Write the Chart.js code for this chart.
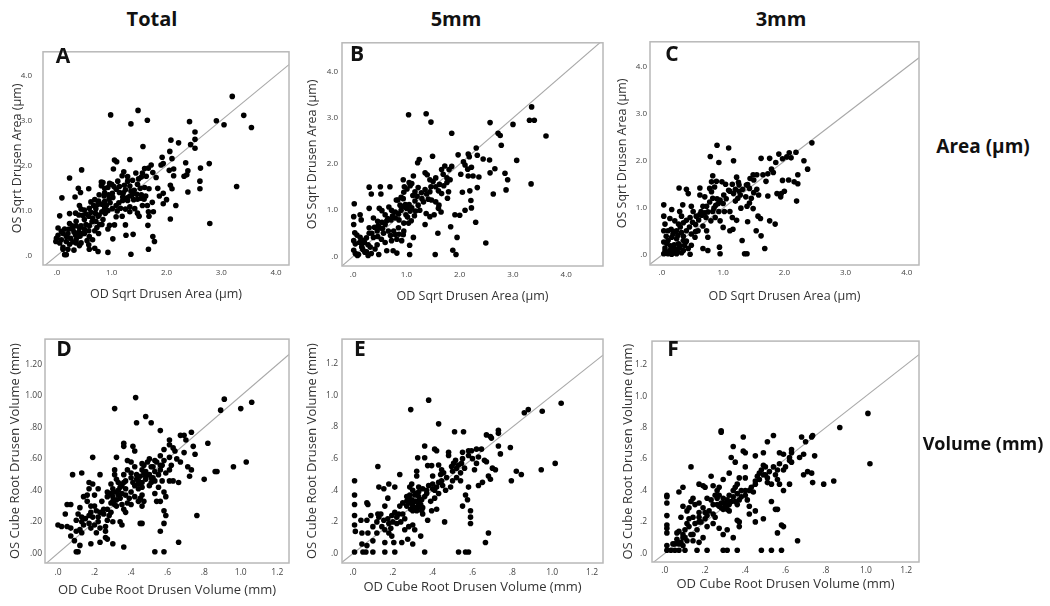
<!DOCTYPE html>
<html>
<head>
<meta charset="utf-8">
<script src="https://cdn.jsdelivr.net/npm/chart.js@4.4.1/dist/chart.umd.min.js"></script>
<style>
  body { margin: 0; background: #fff; width: 1050px; height: 606px; position: relative; overflow: hidden; font-family: "Open Sans", sans-serif; }
  canvas { position: absolute; z-index: 1; }
  .big { position: absolute; z-index: 2; font-weight: bold; font-size: 19px; color: #111; transform: translate(-50%, -50%); white-space: nowrap; }
  .letter { position: absolute; z-index: 2; font-weight: bold; font-size: 21px; color: #111; transform: translate(-50%, -50%); }
</style>
</head>
<body>

<canvas id="cA"></canvas>
<canvas id="cB"></canvas>
<canvas id="cC"></canvas>
<canvas id="cD"></canvas>
<canvas id="cE"></canvas>
<canvas id="cF"></canvas>

<div class="big" style="left:152px;top:18px;font-size:20px">Total</div>
<div class="big" style="left:456px;top:18px;font-size:20px">5mm</div>
<div class="big" style="left:781px;top:18px;font-size:20px">3mm</div>
<div class="big" style="left:983px;top:146px">Area (µm)</div>
<div class="big" style="left:983px;top:443px;font-size:18px">Volume (mm)</div>

<div class="letter" style="left:63px;top:55px">A</div>
<div class="letter" style="left:357px;top:53px">B</div>
<div class="letter" style="left:672px;top:53px">C</div>
<div class="letter" style="left:64px;top:348px">D</div>
<div class="letter" style="left:360px;top:348px">E</div>
<div class="letter" style="left:673px;top:348px">F</div>

<script>
// tick values / labels
const areaTicks = [0, 1, 2, 3, 4];
const areaTickLabels = ['.0', '1.0', '2.0', '3.0', '4.0'];
const volTicks = [0, 0.2, 0.4, 0.6, 0.8, 1.0, 1.2];
const volTickLabels = ['.0', '.2', '.4', '.6', '.8', '1.0', '1.2'];
const volTickLabels2 = ['.00', '.20', '.40', '.60', '.80', '1.00', '1.20'];

const areaXTitle = 'OD Sqrt Drusen Area (µm)';
const areaYTitle = 'OS Sqrt Drusen Area (µm)';
const volXTitle = 'OD Cube Root Drusen Volume (mm)';
const volYTitle = 'OS Cube Root Drusen Volume (mm)';

// [OD, OS] pairs
const areaTotal = [
  [3.2,3.53],[0.98,3.12],[1.48,3.22],[1.35,2.92],[1.65,3.0],[2.42,2.97],[2.91,2.99],[3.41,3.11],[3.05,2.9],[3.55,2.84],
  [2.52,2.74],[2.52,2.58],[2.44,2.46],[2.52,2.38],[2.08,2.56],[2.22,2.5],[2.06,2.31],[1.57,2.42],[2.1,2.15],[1.92,2.18],
  [1.94,2.04],[1.9,2.01],[2.35,2.06],[2.78,2.04],[2.62,1.94],[2.39,1.88],[2.37,1.79],[2.32,1.76],[2.61,1.65],[2.61,1.48],
  [2.39,1.41],[3.28,1.53],[2.79,0.71],[2.07,0.81],[2.17,1.11],[2.07,1.56],[2.1,1.48],[2.0,1.24],[1.94,1.38],[1.94,1.15],
  [2.13,1.77],[2.13,1.92],[2.05,1.89],[1.81,1.73],[1.72,2.01],[1.67,1.94],[1.6,1.93],[1.56,1.83],[1.75,1.84],[1.63,1.76],
  [1.54,1.74],[1.44,1.83],[1.49,1.7],[1.29,1.65],[1.33,2.13],[1.09,2.08],[1.05,2.12],[1.03,1.92],[1.22,1.86],[1.19,1.77],
  [1.25,1.46],[1.35,1.43],[1.41,1.45],[1.52,1.49],[1.6,1.51],[1.68,1.48],[1.46,1.36],[1.54,1.35],[1.54,1.27],[1.47,1.25],
  [1.4,1.24],[1.33,1.32],[1.28,1.28],[1.2,1.3],[1.21,1.39],[1.14,1.4],[1.08,1.47],[1.04,1.53],[0.96,1.6],[0.87,1.49],
  [0.84,1.62],[0.81,1.55],[0.87,1.39],[0.94,1.35],[1.01,1.38],[1.02,1.29],[0.95,1.25],[0.87,1.2],[0.76,1.21],[0.75,1.14],
  [0.82,1.14],[0.9,1.11],[0.93,1.0],[0.88,0.94],[0.82,0.97],[0.77,0.9],[0.7,0.94],[0.71,1.04],[0.67,1.11],[0.59,1.05],
  [0.62,0.96],[0.58,0.87],[0.5,0.8],[0.41,1.11],[0.44,1.03],[0.5,1.01],[0.34,0.94],[0.23,0.93],[0.05,0.88],[0.09,1.28],
  [0.23,1.72],[0.45,1.9],[0.33,1.3],[0.39,1.49],[0.43,1.4],[0.58,1.48],[0.81,1.63],[1.13,1.17],[1.08,1.11],[1.01,1.04],
  [1.1,0.99],[1.16,1.05],[1.25,1.03],[1.33,1.08],[1.33,0.97],[1.42,1.04],[1.47,0.94],[1.5,0.87],[1.56,1.11],[1.59,1.25],
  [1.67,0.97],[1.76,0.97],[1.68,0.87],[1.66,0.67],[1.75,0.42],[1.78,0.31],[1.67,0.14],[1.35,0.03],[1.39,0.47],[1.26,0.45],
  [1.25,0.68],[1.19,0.87],[1.08,0.86],[1.05,0.68],[0.96,0.67],[0.93,0.59],[1.02,0.37],[0.93,0.07],[0.75,0.09],[0.69,0.16],
  [0.59,0.14],[0.76,0.49],[0.69,0.55],[0.73,0.62],[0.78,0.69],[0.82,0.69],[0.84,0.8],[0.71,0.76],[0.64,0.75],[0.59,0.66],
  [0.53,0.69],[0.5,0.59],[0.58,0.55],[0.46,0.49],[0.42,0.43],[0.38,0.49],[0.35,0.35],[0.44,0.28],[0.55,0.33],[0.58,0.24],
  [0.31,0.12],[0.2,0.14],[0.17,0.02],[0.14,0.02],[0.11,0.18],[0.05,0.28],[-0.02,0.31],[-0.01,0.38],[0.08,0.35],[0.17,0.31],
  [0.25,0.38],[0.29,0.3],[0.2,0.49],[0.14,0.59],[0.08,0.54],[0.02,0.61],[0.23,0.71],[0.22,0.59],[0.31,0.52],[0.34,0.45],
  [0.38,0.42],[0.41,0.61],[0.35,0.66],[0.4,0.9],[0.47,0.89],[0.53,0.92],[0.62,1.19],[0.69,1.24],[0.77,1.35],[0.86,1.32],
  [0.93,1.51],[1.0,1.58],[1.11,1.65],
  [0.65,0.83],[0.75,0.87],[0.87,1.04],[0.97,1.17],[1.2,1.22],[1.29,1.22],[1.38,1.36],[1.14,1.53],[1.23,1.56],[1.33,1.54],
  [1.47,1.58],[1.29,1.75],[1.38,1.67],[0.35,0.76],[0.28,0.66],[0.11,0.49],[0.02,0.45],[0.44,0.66],[0.5,0.49],[0.59,0.42],
  [0.65,0.35],[0.4,0.52],[0.29,0.59],[0.17,0.42],[0.35,0.28],[0.41,0.22],[0.11,0.14],[0.23,0.25],[1.62,1.32],[1.65,1.11],
  [1.74,1.18],[1.87,1.32],[1.84,1.49]
];

const area5mm = [
  [3.35,3.24],[1.04,3.07],[1.37,3.09],[1.46,2.91],[1.85,2.67],[2.57,2.9],[3.0,2.86],[3.31,2.95],[3.4,2.95],[3.62,2.61],
  [2.72,2.67],[2.76,2.62],[2.78,2.41],[2.31,2.35],[2.16,2.22],[2.18,2.16],[2.33,2.19],[2.44,2.11],[2.56,2.09],[3.07,2.08],
  [2.66,1.9],[2.57,1.81],[2.85,1.8],[2.9,1.66],[2.87,1.44],[2.63,1.35],[3.34,1.57],[2.49,0.29],[2.3,0.74],[2.21,1.21],
  [2.22,1.05],[2.33,1.49],[2.19,1.42],[2.05,1.39],[2.36,1.72],[2.25,1.74],[2.16,1.74],[2.22,1.93],[2.15,1.89],[2.1,1.98],
  [2.07,2.05],[1.97,2.2],[2.02,1.78],[1.85,1.95],[1.8,1.88],[1.72,1.96],[1.66,1.88],[1.69,1.78],[1.76,1.7],[1.82,1.66],
  [1.76,1.6],[1.7,1.53],[1.79,1.4],[1.77,1.26],[1.66,1.36],[1.6,1.42],[1.62,1.56],[1.55,1.51],[1.46,1.51],[1.44,1.66],
  [1.39,1.77],[1.35,1.81],[1.49,2.17],[1.24,2.1],[1.21,2.03],[1.44,1.4],[1.38,1.35],[1.41,1.24],[1.47,1.22],[1.55,1.18],
  [1.61,1.11],[1.6,1.04],[1.65,0.96],[1.52,0.9],[1.44,0.86],[1.35,0.69],[1.25,1.0],[1.17,0.98],[1.22,1.11],[1.16,1.2],
  [1.12,1.32],[1.16,1.4],[1.1,1.58],[1.07,1.53],[1.01,1.46],[0.96,1.51],[0.94,1.66],[0.95,1.39],[0.9,1.28],[0.84,1.22],
  [0.88,1.11],[0.94,1.08],[1.0,1.04],[1.07,0.98],[0.99,0.9],[1.09,0.77],[1.04,0.72],[0.95,0.72],[0.86,0.79],[0.79,0.83],
  [0.71,0.79],[0.79,0.96],[0.72,1.0],[0.67,1.07],[0.81,1.22],[0.69,1.51],[0.51,1.51],[0.3,1.5],[0.34,1.35],[0.52,1.35],
  [0.02,1.14],[0.3,1.04],[0.49,1.04],[0.54,0.99],[0.38,0.83],[0.46,0.76],[0.54,0.74],[0.6,0.69],[0.63,0.77],[0.47,0.66],
  [0.4,0.63],[0.3,0.62],[0.3,0.5],[0.38,0.41],[0.46,0.43],[0.53,0.37],[0.57,0.5],[0.66,0.55],[0.76,0.55],[0.79,0.47],
  [0.86,0.48],[0.94,0.47],[0.91,0.34],[0.82,0.37],[0.72,0.34],[1.13,0.41],[1.06,0.24],[1.06,0.04],[0.82,0.07],[0.75,0.12],
  [0.63,0.12],[0.48,0.04],[0.41,0.16],[0.34,0.06],[0.22,0.09],[0.16,0.2],[0.1,0.04],[0.04,0.06],[0.01,0.13],[0.04,0.27],
  [0.01,0.34],[0.03,0.51],[0.07,0.46],[0.13,0.41],[0.21,0.3],[0.28,0.25],[0.32,0.2],[0.16,0.27],[0.01,0.86],[0.13,0.9],
  [0.15,0.79],[0.01,0.69],[1.54,0.04],[1.87,0.13],[1.93,0.04],[1.95,0.41],[1.83,0.64],[1.91,0.9],[2.0,0.89],[2.1,1.0],
  [1.59,0.5],[1.37,0.93],[1.29,1.25],[1.32,1.18],[1.22,1.49],[1.05,1.6],[1.13,1.74],[0.94,1.25],[0.06,0.05],[0.08,0.02],
  [0.6,0.9],[0.65,0.82],[0.74,0.88],[0.85,0.92],[0.9,1.0],[0.98,1.12],[1.05,1.12],[1.1,1.05],[1.2,1.3],[1.28,1.38],
  [1.35,1.45],[1.5,1.62],[1.55,1.7],[0.45,0.55],[0.5,0.62],[0.55,0.6],[0.35,0.5],[0.25,0.4],[0.2,0.35],[0.12,0.3],
  [0.18,0.15],[0.25,0.1],[0.28,0.02],[0.45,0.25],[0.6,0.3],[0.7,0.45],[0.85,0.62],[0.95,0.55],[1.02,0.85],[1.15,0.88]
];

const area3mm = [
  [0.9,2.34],[1.09,2.28],[0.79,2.1],[0.93,1.97],[1.17,2.01],[1.62,2.06],[1.76,2.06],[1.91,2.15],[1.97,2.05],[2.04,2.09],
  [2.11,2.07],[2.19,2.19],[2.08,2.18],[2.45,2.39],[2.32,2.01],[2.38,1.83],[2.22,1.71],[2.2,1.15],[2.16,1.56],[2.22,1.52],
  [2.07,1.6],[1.97,1.59],[2.0,1.36],[1.95,1.31],[1.88,1.31],[1.94,1.24],[1.86,1.97],[1.79,1.83],[1.82,1.76],[1.73,1.73],
  [1.65,1.71],[1.7,1.57],[1.55,1.71],[1.44,1.63],[1.49,1.71],[1.73,1.26],[1.58,1.28],[1.5,1.33],[1.43,1.42],[1.38,1.49],
  [1.32,1.4],[1.26,1.49],[1.28,1.28],[1.24,1.21],[1.2,1.15],[1.43,1.11],[1.49,0.99],[1.39,1.04],[1.29,1.0],[1.22,1.66],
  [1.15,1.51],[1.09,1.38],[1.01,1.28],[0.95,1.17],[0.92,1.1],[0.88,1.06],[0.93,0.93],[0.95,0.73],[0.87,0.8],[0.8,0.73],
  [0.83,0.93],[0.75,0.92],[0.73,1.04],[0.78,1.13],[0.83,1.21],[0.81,1.35],[0.86,1.45],[0.89,1.57],[0.81,1.56],[0.78,1.42],
  [0.83,1.69],[0.62,1.43],[0.4,1.4],[0.43,1.31],[0.28,1.43],[0.67,1.04],[0.64,0.93],[0.62,0.87],[0.56,0.83],[0.51,0.93],
  [0.48,1.04],[0.46,0.8],[0.4,0.74],[0.35,0.69],[0.32,0.83],[0.29,0.93],[0.34,1.07],[0.27,0.66],[0.21,0.73],[0.13,0.78],
  [0.03,1.07],[0.16,0.97],[0.03,0.83],[0.03,0.52],[0.1,0.52],[0.18,0.45],[0.24,0.52],[0.32,0.48],[0.4,0.52],[0.48,0.45],
  [0.54,0.38],[0.59,0.52],[0.67,0.62],[0.73,0.52],[0.75,0.38],[0.67,0.14],[0.75,0.1],[0.94,0.17],[0.95,0.03],[1.11,0.52],
  [1.16,0.55],[1.22,0.74],[1.31,0.31],[1.35,0.03],[1.39,0.03],[1.54,0.52],[1.62,0.41],[1.68,0.14],[1.85,0.66],[1.76,0.73],
  [1.61,0.78],[1.57,0.83],[1.4,0.71],[0.48,0.21],[0.43,0.14],[0.37,0.21],[0.35,0.31],[0.27,0.24],[0.21,0.14],[0.13,0.1],
  [0.08,0.05],[0.03,0.03],[0.05,0.09],[0.1,0.03],[0.16,0.02],[0.24,0.03],[0.32,0.05],[0.46,0.02],[0.03,0.28],[0.1,0.31],
  [0.16,0.38],[0.24,0.35],[0.05,0.66],[0.29,0.17],[0.35,0.1],[0.39,0.28],[0.62,1.28],[0.7,1.24],[0.98,1.56],[1.04,1.51],
  [1.11,1.36],[1.17,1.31],[1.26,1.36],[1.37,1.24],[1.46,1.21],[1.11,0.93],[1.02,0.93],[1.15,0.8],[1.0,0.59],[0.06,0.04],
  [0.12,0.06],[0.18,0.07],[0.2,0.22],[0.26,0.42],[0.14,0.2],
  [0.1,0.05],[0.15,0.12],[0.2,0.05],[0.25,0.1],[0.3,0.2],[0.35,0.4],[0.45,0.6],[0.5,0.7],[0.55,0.65],[0.6,0.75],
  [0.65,0.85],[0.7,0.9],[0.72,0.8],[0.85,1.0],[0.9,1.2],[1.0,1.1],[1.05,1.2],[1.2,1.4],[1.25,1.55],[1.4,1.5],
  [1.5,1.6],[1.55,1.4],[0.3,0.6],[0.2,0.5],[0.15,0.55],[0.4,0.3],[0.55,0.5],[0.05,0.15],[0.07,0.4],[0.08,0.25]
];

const volTotal = [
  [0.425,0.99],[0.31,0.92],[0.48,0.87],[0.51,0.83],[0.43,0.83],[0.56,0.78],[0.91,0.98],[0.89,0.91],[1.0,0.92],[1.06,0.96],
  [0.73,0.77],[0.69,0.75],[0.67,0.75],[0.61,0.72],[0.7,0.72],[0.61,0.69],[0.63,0.67],[0.64,0.65],[0.69,0.64],[0.74,0.68],
  [0.75,0.63],[0.82,0.7],[0.67,0.58],[0.71,0.55],[0.73,0.53],[0.72,0.49],[0.8,0.47],[0.86,0.52],[0.87,0.52],[0.96,0.55],
  [1.03,0.58],[0.76,0.24],[0.66,0.45],[0.63,0.46],[0.61,0.46],[0.58,0.39],[0.59,0.36],[0.58,0.27],[0.59,0.24],[0.58,0.19],
  [0.56,0.14],[0.66,0.07],[0.58,0.01],[0.53,0.01],[0.61,0.53],[0.56,0.53],[0.56,0.56],[0.54,0.58],[0.53,0.59],[0.52,0.55],
  [0.53,0.52],[0.52,0.48],[0.51,0.45],[0.5,0.43],[0.53,0.38],[0.56,0.33],[0.54,0.33],[0.49,0.58],[0.47,0.56],[0.46,0.57],
  [0.46,0.53],[0.47,0.51],[0.45,0.49],[0.43,0.47],[0.42,0.43],[0.44,0.41],[0.46,0.37],[0.47,0.33],[0.46,0.3],[0.45,0.19],
  [0.46,0.19],[0.42,0.65],[0.41,0.68],[0.36,0.7],[0.36,0.68],[0.32,0.61],[0.38,0.59],[0.38,0.53],[0.4,0.51],[0.4,0.48],
  [0.37,0.46],[0.36,0.45],[0.33,0.45],[0.32,0.47],[0.31,0.5],[0.3,0.41],[0.31,0.39],[0.33,0.37],[0.34,0.35],[0.32,0.34],
  [0.3,0.36],[0.29,0.38],[0.27,0.39],[0.27,0.36],[0.29,0.32],[0.31,0.31],[0.35,0.31],[0.36,0.28],[0.37,0.26],[0.34,0.2],
  [0.35,0.18],[0.36,0.04],[0.3,0.06],[0.26,0.1],[0.27,0.09],[0.23,0.07],[0.18,0.06],[0.12,0.05],[0.1,0.01],[0.11,0.01],
  [0.19,0.61],[0.23,0.5],[0.13,0.51],[0.08,0.5],[0.17,0.45],[0.19,0.44],[0.17,0.41],[0.22,0.41],[0.2,0.37],[0.16,0.37],
  [0.14,0.36],[0.16,0.33],[0.18,0.3],[0.2,0.3],[0.21,0.27],[0.23,0.26],[0.18,0.26],[0.17,0.24],[0.19,0.23],[0.22,0.23],
  [0.25,0.25],[0.27,0.21],[0.26,0.17],[0.23,0.16],[0.21,0.13],[0.18,0.16],[0.17,0.19],[0.14,0.18],[0.13,0.13],[0.1,0.14],
  [0.07,0.11],[0.09,0.08],[0.07,0.16],[0.05,0.17],[0.02,0.17],[0.0,0.18],[0.04,0.25],[0.05,0.31],[0.07,0.31],[0.12,0.29],
  [0.11,0.25],[0.13,0.23],[0.1,0.21],[0.13,0.2],[0.27,0.28],[0.29,0.26],[0.29,0.44],[0.31,0.53],[0.37,0.41],[0.4,0.39],
  [0.42,0.36],[0.39,0.35],[0.44,0.33],[0.4,0.31],[0.57,0.46],[0.59,0.51],[0.58,0.59],[0.56,0.62],[0.58,0.66],[0.61,0.61],
  [0.5,0.6],[0.51,0.48],[0.48,0.47],[0.46,0.45],[0.42,0.55],[0.55,0.42],[0.34,0.42],[0.35,0.38],[0.44,0.44],[0.48,0.52],
  [0.3,0.33],[0.32,0.3],[0.33,0.4],[0.35,0.43],[0.37,0.37],[0.38,0.32],[0.41,0.45],[0.43,0.5],[0.44,0.46],[0.46,0.42],
  [0.48,0.49],[0.5,0.5],[0.51,0.55],[0.53,0.46],[0.55,0.5],[0.57,0.56],[0.25,0.28],[0.22,0.2],[0.2,0.18],[0.15,0.22],
  [0.12,0.15],[0.28,0.24],[0.24,0.33],[0.36,0.5],[0.4,0.58],[0.62,0.56],[0.65,0.6],[0.45,0.35],[0.3,0.2],[0.26,0.14]
];

const vol5mm = [
  [0.38,0.97],[0.29,0.91],[0.43,0.82],[0.51,0.77],[0.555,0.77],[0.86,0.89],[0.88,0.91],[0.95,0.9],[1.045,0.95],[1.015,0.57],
  [0.945,0.53],[0.845,0.5],[0.82,0.52],[0.795,0.46],[0.73,0.78],[0.73,0.76],[0.69,0.74],[0.67,0.75],[0.695,0.73],[0.79,0.67],
  [0.74,0.63],[0.73,0.68],[0.645,0.66],[0.62,0.66],[0.63,0.61],[0.66,0.59],[0.67,0.58],[0.7,0.54],[0.715,0.53],[0.68,0.49],
  [0.69,0.47],[0.65,0.45],[0.63,0.43],[0.61,0.53],[0.595,0.65],[0.58,0.65],[0.55,0.64],[0.515,0.59],[0.505,0.57],[0.48,0.64],
  [0.48,0.62],[0.495,0.55],[0.52,0.54],[0.545,0.57],[0.56,0.54],[0.54,0.51],[0.52,0.48],[0.5,0.46],[0.54,0.46],[0.58,0.42],
  [0.565,0.37],[0.575,0.34],[0.55,0.3],[0.59,0.27],[0.59,0.23],[0.59,0.19],[0.665,0.07],[0.68,0.13],[0.53,0.01],[0.565,0.01],
  [0.58,0.01],[0.46,0.2],[0.36,0.01],[0.49,0.42],[0.465,0.4],[0.445,0.46],[0.44,0.5],[0.455,0.51],[0.445,0.53],[0.43,0.56],
  [0.41,0.66],[0.42,0.65],[0.36,0.68],[0.325,0.606],[0.36,0.606],[0.375,0.556],[0.395,0.556],[0.42,0.42],[0.41,0.4],[0.4,0.44],
  [0.38,0.43],[0.37,0.4],[0.35,0.41],[0.33,0.42],[0.32,0.52],[0.32,0.49],[0.295,0.44],[0.285,0.42],[0.3,0.4],[0.315,0.38],
  [0.33,0.36],[0.345,0.34],[0.315,0.33],[0.295,0.34],[0.285,0.37],[0.27,0.36],[0.25,0.32],[0.235,0.3],[0.27,0.3],[0.3,0.3],
  [0.325,0.29],[0.345,0.27],[0.375,0.21],[0.395,0.27],[0.37,0.38],[0.39,0.33],[0.41,0.35],[0.42,0.28],[0.26,0.22],[0.3,0.18],
  [0.28,0.17],[0.31,0.15],[0.34,0.11],[0.3,0.06],[0.275,0.09],[0.245,0.07],[0.205,0.07],[0.195,0.11],[0.18,0.13],[0.16,0.15],
  [0.145,0.17],[0.18,0.19],[0.2,0.2],[0.22,0.23],[0.23,0.25],[0.21,0.26],[0.195,0.24],[0.175,0.22],[0.155,0.21],[0.13,0.23],
  [0.12,0.2],[0.125,0.25],[0.16,0.3],[0.175,0.35],[0.155,0.41],[0.13,0.42],[0.18,0.44],[0.21,0.42],[0.235,0.5],[0.125,0.55],
  [0.07,0.32],[0.075,0.31],[0.04,0.21],[0.07,0.21],[0.008,0.46],[0.008,0.37],[0.008,0.31],[0.008,0.24],[0.008,0.18],[0.012,0.14],
  [0.045,0.13],[0.075,0.13],[0.1,0.17],[0.12,0.13],[0.1,0.08],[0.045,0.06],[0.07,0.05],[0.05,0.01],[0.008,0.01],[0.065,0.01],
  [0.1,0.01],[0.16,0.01],[0.21,0.01],[0.16,0.07],[0.26,0.15],[0.31,0.33],[0.33,0.31],[0.3,0.27],[0.28,0.32],[0.35,0.29],
  [0.3,0.32],[0.31,0.29],[0.32,0.27],[0.33,0.33],[0.34,0.31],[0.29,0.28],[0.28,0.35],[0.27,0.33],[0.31,0.37],[0.33,0.39],
  [0.36,0.36],[0.35,0.25],[0.4,0.41],[0.43,0.45],[0.45,0.43],[0.47,0.48],[0.5,0.52],[0.53,0.56],[0.55,0.6],[0.58,0.62],
  [0.6,0.6],[0.25,0.25],[0.22,0.19],[0.19,0.16],[0.24,0.2],[0.14,0.25],[0.09,0.24],[0.4,0.49],[0.43,0.38],[0.62,0.57]
];

const vol3mm = [
  [1.01,0.89],[1.02,0.57],[0.87,0.8],[0.28,0.78],[0.28,0.77],[0.39,0.74],[0.51,0.71],[0.54,0.75],[0.68,0.74],[0.7,0.71],
  [0.73,0.74],[0.735,0.75],[0.34,0.68],[0.39,0.65],[0.4,0.64],[0.33,0.61],[0.35,0.58],[0.13,0.55],[0.23,0.49],[0.32,0.51],
  [0.4,0.55],[0.45,0.62],[0.49,0.64],[0.57,0.64],[0.59,0.63],[0.63,0.66],[0.63,0.64],[0.62,0.61],[0.67,0.61],[0.69,0.63],
  [0.745,0.62],[0.69,0.5],[0.71,0.52],[0.73,0.51],[0.735,0.45],[0.79,0.44],[0.84,0.46],[0.62,0.59],[0.59,0.53],[0.56,0.53],
  [0.55,0.5],[0.54,0.55],[0.49,0.56],[0.5,0.55],[0.49,0.5],[0.47,0.51],[0.46,0.49],[0.45,0.46],[0.51,0.48],[0.51,0.45],
  [0.53,0.44],[0.56,0.47],[0.57,0.44],[0.62,0.44],[0.59,0.4],[0.53,0.33],[0.55,0.28],[0.56,0.28],[0.58,0.18],[0.59,0.17],
  [0.56,0.13],[0.66,0.08],[0.49,0.22],[0.45,0.2],[0.45,0.27],[0.42,0.3],[0.4,0.4],[0.38,0.4],[0.42,0.4],[0.44,0.39],
  [0.41,0.34],[0.4,0.48],[0.37,0.48],[0.36,0.44],[0.34,0.4],[0.36,0.38],[0.37,0.34],[0.36,0.31],[0.35,0.33],[0.32,0.37],
  [0.31,0.34],[0.32,0.31],[0.3,0.32],[0.29,0.35],[0.27,0.37],[0.27,0.42],[0.29,0.47],[0.26,0.4],[0.25,0.37],[0.23,0.34],
  [0.24,0.31],[0.26,0.31],[0.28,0.29],[0.29,0.28],[0.32,0.27],[0.25,0.23],[0.24,0.19],[0.21,0.17],[0.27,0.16],[0.31,0.15],
  [0.29,0.12],[0.37,0.17],[0.36,0.21],[0.37,0.2],[0.34,0.1],[0.19,0.43],[0.2,0.42],[0.17,0.44],[0.24,0.43],[0.14,0.35],
  [0.13,0.33],[0.15,0.31],[0.17,0.32],[0.19,0.29],[0.2,0.26],[0.21,0.24],[0.21,0.35],[0.17,0.26],[0.17,0.23],[0.17,0.2],
  [0.14,0.23],[0.12,0.22],[0.12,0.29],[0.09,0.3],[0.08,0.23],[0.11,0.19],[0.12,0.17],[0.1,0.15],[0.09,0.12],[0.07,0.14],
  [0.09,0.1],[0.1,0.1],[0.14,0.12],[0.14,0.08],[0.17,0.07],[0.19,0.1],[0.09,0.05],[0.07,0.06],[0.05,0.06],[0.01,0.05],
  [0.01,0.02],[0.03,0.02],[0.05,0.02],[0.07,0.02],[0.1,0.02],[0.16,0.02],[0.21,0.02],[0.29,0.02],[0.31,0.02],[0.36,0.02],
  [0.48,0.02],[0.53,0.02],[0.58,0.02],[0.01,0.37],[0.01,0.36],[0.01,0.32],[0.01,0.24],[0.01,0.18],[0.01,0.16],[0.01,0.13],
  [0.07,0.39],[0.09,0.42],[0.06,0.13],[0.15,0.19],[0.11,0.27],
  [0.3,0.3],[0.31,0.28],[0.33,0.33],[0.34,0.36],[0.28,0.32],[0.27,0.3],[0.26,0.35],[0.38,0.36],[0.4,0.37],[0.43,0.42],
  [0.45,0.44],[0.47,0.47],[0.48,0.53],[0.5,0.5],[0.52,0.52],[0.22,0.27],[0.2,0.22],[0.18,0.2],[0.16,0.15],[0.13,0.12],
  [0.11,0.08],[0.08,0.07],[0.06,0.09],[0.04,0.06],[0.24,0.25],[0.35,0.42],[0.57,0.57],[0.6,0.55],[0.63,0.58],[0.42,0.25]
];

// panel layout: plot box in page pixels and axis ranges
const panels = [
  { id: 'cA', pts: areaTotal, box: [43, 38, 290, 265], xr: [-0.255, 4.236], yr: [-0.21, 4.52],
    ticks: areaTicks, xl: areaTickLabels, yl: areaTickLabels, xt: areaXTitle, yt: areaYTitle,
    yTitleX: 17, yPad: 11, xPad: 3, xTitleY: 294, tf: 12.5, kf: 8 },
  { id: 'cB', pts: area5mm, box: [342, 36, 604, 266], xr: [-0.21, 4.69], yr: [-0.21, 4.63],
    ticks: areaTicks, xl: areaTickLabels, yl: areaTickLabels, xt: areaXTitle, yt: areaYTitle,
    yTitleX: 312, yPad: 4, xPad: 4, xTitleY: 296, tf: 12.5, kf: 8 },
  { id: 'cC', pts: area3mm, box: [650, 36, 920, 265], xr: [-0.195, 4.2], yr: [-0.21, 4.54],
    ticks: areaTicks, xl: areaTickLabels, yl: areaTickLabels, xt: areaXTitle, yt: areaYTitle,
    yTitleX: 622, yPad: 3, xPad: 3, xTitleY: 296, tf: 12.5, kf: 8 },
  { id: 'cD', pts: volTotal, box: [45, 333, 290, 563], xr: [-0.071, 1.264], yr: [-0.062, 1.362],
    ticks: volTicks, xl: volTickLabels, yl: volTickLabels2, xt: volXTitle, yt: volYTitle,
    yTitleX: 15, yPad: 3, xPad: 4, xTitleY: 590, tf: 13, kf: 8.5 },
  { id: 'cE', pts: vol5mm, box: [342, 332, 604, 563], xr: [-0.055, 1.255], yr: [-0.06, 1.356],
    ticks: volTicks, xl: volTickLabels, yl: volTickLabels, xt: volXTitle, yt: volYTitle,
    yTitleX: 312, yPad: 4, xPad: 4, xTitleY: 587, tf: 13, kf: 8.5 },
  { id: 'cF', pts: vol3mm, box: [652, 333, 920, 562], xr: [-0.064, 1.264], yr: [-0.055, 1.35],
    ticks: volTicks, xl: volTickLabels, yl: volTickLabels, xt: volXTitle, yt: volYTitle,
    yTitleX: 628, yPad: 5, xPad: 3, xTitleY: 584, tf: 13, kf: 8.5 }
];

const frame = {
  id: 'frame',
  afterDatasetsDraw(chart) {
    const a = chart.chartArea, ctx = chart.ctx;
    ctx.save();
    ctx.strokeStyle = '#b8b8b8';
    ctx.lineWidth = 1.5;
    ctx.strokeRect(a.left, a.top, a.right - a.left, a.bottom - a.top);
    ctx.restore();
  }
};

const YW = 42, XH = 40, PT = 2, PR = 3;

panels.forEach(p => {
  const [l, t, r, b] = p.box;
  const cv = document.getElementById(p.id);
  const w = r - l + YW + PR, h = b - t + XH + PT;
  cv.width = w; cv.height = h;
  cv.style.left = (l - YW) + 'px';
  cv.style.top = (t - PT) + 'px';
  const canvasBottom = t - PT + h;
  const half = p.tf * 0.6;
  const titleFont = { family: 'Open Sans', size: p.tf };
  const tickFont = { family: 'Open Sans', size: p.kf };

  new Chart(cv, {
    type: 'scatter',
    data: {
      datasets: [
        { data: p.pts.map(q => ({ x: q[0], y: q[1] })), pointRadius: 2.8, pointBackgroundColor: '#000', pointBorderWidth: 0 },
        { data: [{ x: p.xr[0], y: p.xr[0] }, { x: p.xr[1], y: p.xr[1] }], showLine: true, borderColor: '#a8a8a8', borderWidth: 1.1, pointRadius: 0 }
      ]
    },
    options: {
      responsive: false,
      animation: false,
      devicePixelRatio: 1,
      layout: { padding: { top: PT, right: PR, left: 0, bottom: 0 } },
      plugins: { legend: { display: false }, tooltip: { enabled: false } },
      scales: {
        x: {
          type: 'linear', min: p.xr[0], max: p.xr[1],
          grid: { display: false, drawTicks: false }, border: { display: false },
          afterBuildTicks: s => { s.ticks = p.ticks.map(v => ({ value: v })); },
          afterFit: s => { s.height = XH; },
          ticks: { autoSkip: false, maxRotation: 0, padding: p.xPad, color: '#444', font: tickFont,
                   callback: (v, i) => p.xl[i] },
          title: { display: true, text: p.xt, color: '#333', font: titleFont,
                   padding: { top: 0, bottom: canvasBottom - p.xTitleY - half } }
        },
        y: {
          type: 'linear', min: p.yr[0], max: p.yr[1],
          grid: { display: false, drawTicks: false }, border: { display: false },
          afterBuildTicks: s => { s.ticks = p.ticks.map(v => ({ value: v })); },
          afterFit: s => { s.width = YW; },
          ticks: { autoSkip: false, padding: p.yPad, color: '#444', font: tickFont,
                   callback: (v, i) => p.yl[i] },
          title: { display: true, text: p.yt, color: '#333', font: titleFont,
                   padding: { top: p.yTitleX - (l - YW) - half, bottom: 0 } }
        }
      }
    },
    plugins: [frame]
  });
});
</script>
</body>
</html>
